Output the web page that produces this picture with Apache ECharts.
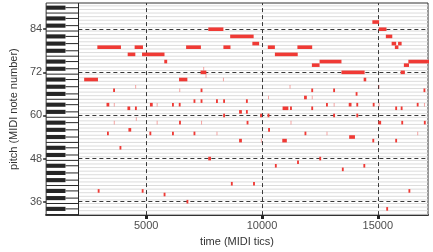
<!DOCTYPE html>
<html>
<head>
<meta charset="utf-8" />
<title></title>
<script type="text/javascript" src="https://cdn.jsdelivr.net/npm/echarts@6/dist/echarts.min.js"></script>
<style>
    html, body { margin: 0; padding: 0; background: #fff; }
    #con1 { width: 433px; height: 252px; }
</style>
</head>
<body>
<div id="con1"></div>
<script type="text/javascript">
// melody notes (MIDI tics / note number)
var melOnset = [2321, 2890, 4200, 4500, 4820, 5780, 6417, 6722, 7347, 7681, 8333, 8625, 9583, 10250, 10556,
    11528, 12153, 12486, 13431, 14389, 14764, 15042, 15347, 15597, 15736, 15875, 15986, 16125, 16319];
var melDur = [596, 1020, 330, 360, 970, 125, 360, 640, 250, 652, 306, 1014, 292, 306, 986,
    639, 333, 945, 1000, 111, 292, 333, 278, 195, 153, 153, 181, 222, 931];
var melPitch = [70, 79, 77, 79, 77, 75, 70, 79, 72, 84, 79, 82, 80, 79, 77,
    79, 74, 75, 72, 70, 86, 84, 82, 80, 79, 80, 72, 74, 75];

// accompaniment notes
var accOnset = [7460, 7560, 2906, 3286, 3306, 3572, 3600, 3600, 3847, 4190, 4232, 4522, 4514, 4551, 4806,
    5161, 5139, 5451, 5451, 5752, 6114, 6114, 6426, 6406, 6418, 6739, 7043, 7043, 7348, 7348,
    7368, 7678, 8014, 8034, 8313, 8323, 8323, 8656, 9011, 9011, 9306, 9306, 9335, 9614, 9918,
    9951, 10259, 10239, 10264, 10556, 10888, 10875, 11188, 11210, 11230, 11514, 11815, 11835, 12127, 12147,
    12127, 12473, 12764, 12784, 13073, 13093, 13073, 13448, 13763, 13744, 14043, 14073, 14073, 14377, 14781,
    14764, 15034, 15034, 15023, 15364, 15752, 15752, 15989, 16014, 16323, 16681, 16701, 16973, 16993, 16989];
var accDur = [40, 40, 80, 120, 80, 80, 40, 40, 80, 120, 120, 40, 80, 40, 80,
    120, 80, 40, 40, 80, 80, 80, 40, 80, 80, 80, 80, 80, 80, 80,
    40, 120, 80, 40, 40, 80, 80, 80, 120, 120, 80, 80, 80, 80, 80,
    40, 40, 80, 80, 80, 250, 196, 40, 80, 40, 80, 120, 80, 80, 40,
    80, 80, 80, 40, 80, 40, 80, 80, 250, 120, 80, 80, 80, 80, 80,
    80, 40, 40, 120, 80, 80, 80, 80, 80, 80, 80, 40, 80, 40, 80];
var accPitch = [73, 71, 39, 63, 55, 67, 63, 58, 51, 62, 56, 68, 62, 59, 39,
    63, 55, 63, 58, 38, 63, 55, 67, 63, 58, 36, 64, 55, 67, 64,
    58, 48, 64, 55, 70, 64, 60, 41, 61, 53, 64, 61, 58, 41, 60,
    53, 65, 60, 56, 46, 62, 53, 68, 62, 58, 47, 65, 55, 67, 65,
    62, 48, 63, 55, 67, 63, 60, 45, 54, 63, 66, 63, 60, 46, 63,
    53, 68, 63, 58, 34, 62, 53, 62, 58, 39, 63, 55, 67, 63, 58];
var accVel = [45, 45, 100, 100, 100, 100, 45, 45, 100, 100, 100, 45, 100, 45, 100,
    100, 100, 45, 45, 100, 100, 100, 45, 100, 100, 100, 100, 100, 100, 100,
    45, 100, 100, 45, 45, 100, 100, 100, 100, 100, 100, 100, 100, 100, 100,
    45, 45, 100, 100, 100, 100, 100, 45, 100, 45, 100, 100, 100, 100, 45,
    100, 100, 100, 45, 100, 45, 100, 100, 100, 100, 100, 100, 100, 100, 100,
    100, 45, 45, 100, 100, 100, 100, 100, 100, 100, 100, 45, 100, 45, 100];

var xTicks = [5000, 10000, 15000];
var yTicks = [36, 48, 60, 72, 84];
var keyPitches = [];
for (var k = 32; k <= 92; k++) keyPitches.push(k);

var xMin = 679, xMax = 17167, rollStart = 2071;
var yMin = 32.27, yMax = 91.3;
var noteColor = '#f03a35';

var notes = [];
for (var i = 0; i < melOnset.length; i++) {
    notes.push([melOnset[i], melOnset[i] + melDur[i], melPitch[i], 100]);
}
for (var j = 0; j < accOnset.length; j++) {
    notes.push([accOnset[j], accOnset[j] + accDur[j], accPitch[j], accVel[j]]);
}

function isBlack(p) {
    return [1, 3, 6, 8, 10].indexOf(((p % 12) + 12) % 12) >= 0;
}

function renderKey(params, api) {
    var p = api.value(0);
    var x0 = api.coord([xMin, p])[0];
    var x1 = api.coord([rollStart, p])[0];
    var x2 = api.coord([xMax, p])[0];
    var yc = api.coord([xMin, p])[1];
    var yTop = api.coord([xMin, p + 0.5])[1];
    var kids = [];
    kids.push({ type: 'line', shape: { x1: x1, y1: yTop, x2: x2, y2: yTop }, style: { stroke: '#dcdcdc', lineWidth: 1 } });
    if (isBlack(p)) {
        var bx = x0 + (x1 - x0) * 0.6;
        var kh = api.size([0, 1.15])[1];
        kids.push({ type: 'rect', shape: { x: x0, y: yc - kh / 2, width: bx - x0, height: kh }, style: { fill: '#262626' } });
        kids.push({ type: 'line', shape: { x1: bx, y1: yc, x2: x1, y2: yc }, style: { stroke: '#262626', lineWidth: 1 } });
    } else if (p % 12 === 4 || p % 12 === 11) {
        kids.push({ type: 'line', shape: { x1: x0, y1: yTop, x2: x1, y2: yTop }, style: { stroke: '#262626', lineWidth: 1 } });
    }
    return { type: 'group', children: kids };
}

function renderNote(params, api) {
    var a = api.coord([api.value(0), api.value(2)]);
    var b = api.coord([api.value(1), api.value(2)]);
    var h = api.size([0, 1])[1];
    return {
        type: 'rect',
        shape: { x: a[0], y: a[1] - h / 2, width: Math.max(b[0] - a[0], 1), height: h },
        style: { fill: noteColor, opacity: api.value(3) / 100 }
    };
}

var dashLines = [];
xTicks.forEach(function (t) { dashLines.push({ xAxis: t }); });
yTicks.forEach(function (t) { dashLines.push([{ coord: [rollStart, t] }, { coord: [xMax, t] }]); });

var myChart = echarts.init(document.getElementById('con1'), null, { renderer: 'canvas' });
var option = {
    animation: false,
    backgroundColor: '#ffffff',
    textStyle: { fontFamily: 'Liberation Sans, Arial, sans-serif' },
    grid: { left: 32, right: 5, top: 3, bottom: 28.5, show: true, borderColor: '#333', borderWidth: 1, backgroundColor: 'transparent' },
    xAxis: {
        type: 'value', min: xMin, max: xMax,
        name: 'time (MIDI tics)', nameLocation: 'middle', nameGap: 19,
        nameTextStyle: { color: '#333', fontSize: 11 },
        axisLine: { show: true, lineStyle: { color: '#333', width: 2 } },
        axisTick: { show: true, customValues: xTicks, length: 4, lineStyle: { color: '#222', width: 3 } },
        axisLabel: {
            customValues: xTicks, color: '#4d4d4d', fontSize: 11, margin: 5,
            formatter: function (v) { return String(v); }
        },
        splitLine: { show: false }
    },
    yAxis: {
        type: 'value', min: yMin, max: yMax,
        name: 'pitch (MIDI note number)', nameLocation: 'middle', nameGap: 23,
        nameTextStyle: { color: '#333', fontSize: 11 },
        axisLine: { show: false },
        axisTick: { show: true, customValues: yTicks, length: 3, lineStyle: { color: '#222', width: 1.5 } },
        axisLabel: {
            customValues: yTicks, color: '#4d4d4d', fontSize: 11, margin: 4,
            formatter: function (v) { return String(v); }
        },
        splitLine: { show: false }
    },
    series: [
        {
            type: 'custom', name: 'keys', clip: true, z: 1,
            data: keyPitches.map(function (p) { return [p]; }),
            encode: { y: 0 },
            renderItem: renderKey,
            markLine: {
                silent: true, symbol: 'none', label: { show: false },
                lineStyle: { color: '#262626', width: 1, type: 'solid' },
                data: [{ xAxis: rollStart }]
            }
        },
        {
            type: 'custom', name: 'notes', clip: true, z: 3,
            data: notes,
            encode: { x: [0, 1], y: 2 },
            renderItem: renderNote,
            markLine: {
                silent: true, symbol: 'none', label: { show: false }, z: 2,
                lineStyle: { color: '#3a3a3a', width: 1, type: [4, 3] },
                data: dashLines
            }
        }
    ]
};
option && myChart.setOption(option);
</script>
</body>
</html>
